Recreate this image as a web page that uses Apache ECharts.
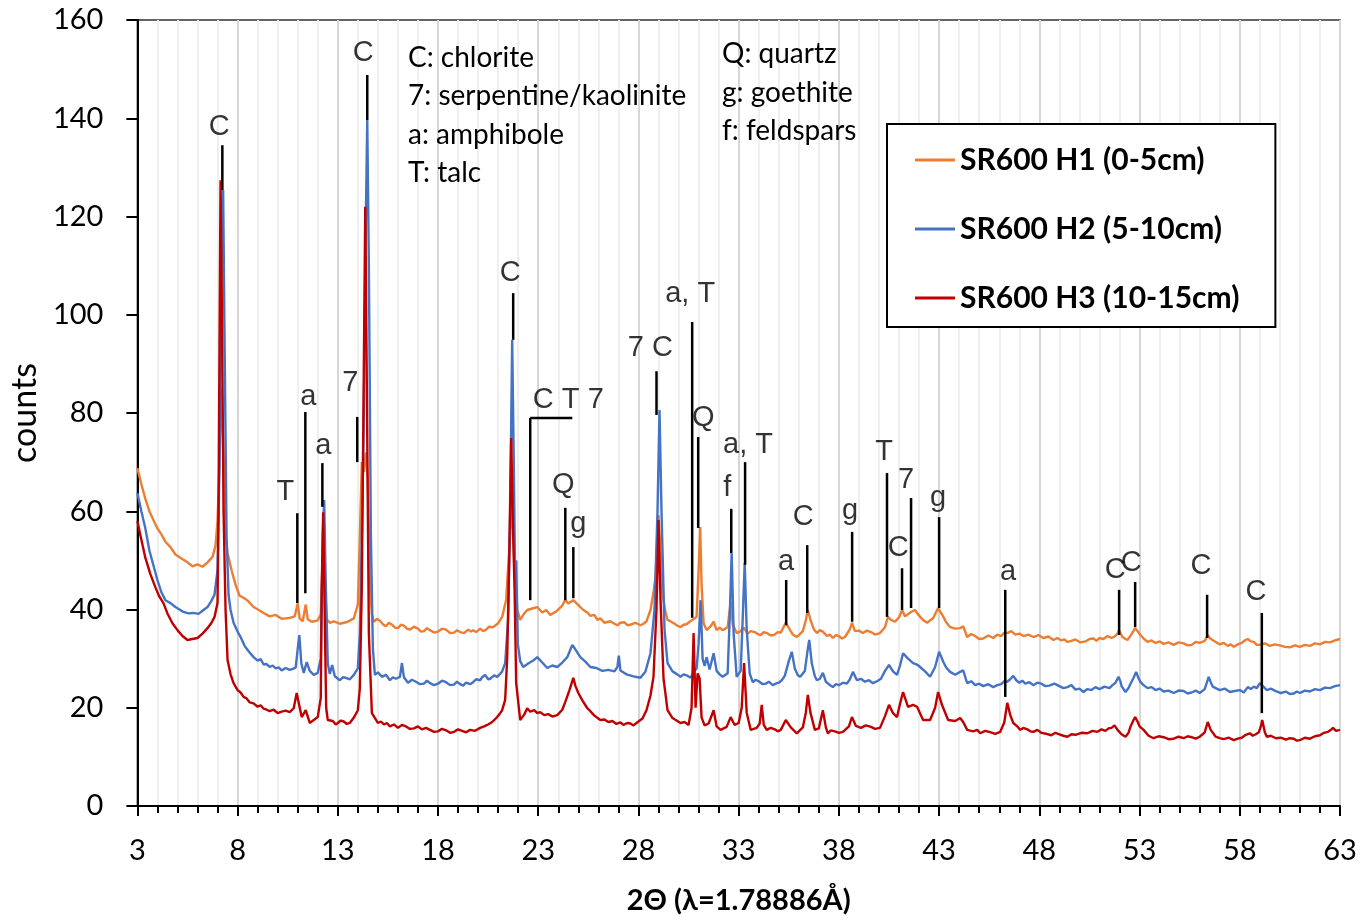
<!DOCTYPE html>
<html>
<head>
<meta charset="utf-8">
<script src="https://cdn.jsdelivr.net/npm/echarts@6/dist/echarts.min.js"></script>
<style>
  html, body { margin: 0; padding: 0; background: #fff; }
  #chart { width: 1360px; height: 921px; }
</style>
</head>
<body>
<div id="chart"></div>
<script>
// names of the 3 patterns
const seriesNames = ['SR600 H1 (0-5cm)', 'SR600 H2 (5-10cm)', 'SR600 H3 (10-15cm)'];

// [2theta, counts]
const h1 = [[3.0,68.8],[3.2,65.5],[3.4,62.5],[3.6,60],[3.8,58.2],[4.0,56.5],[4.2,55.3],[4.4,53.8],[4.65,52.7],[4.9,51.2],[5.2,50.4],[5.5,49.6],[5.75,48.8],[6.0,49.2],[6.25,48.7],[6.5,49.6],[6.75,50.7],[6.9,53],[7.0,58],[7.1,70],[7.2,85],[7.3,72],[7.4,55],[7.5,51.5],[7.7,48],[7.9,45],[8.1,42.8],[8.3,42.4],[8.5,41.8],[8.8,40.5],[9.1,39.8],[9.3,39.3],[9.6,38.6],[9.9,38.9],[10.2,38.1],[10.6,38.3],[10.85,38.6],[11.0,41.2],[11.1,38.2],[11.25,37.6],[11.4,41],[11.5,38],[11.7,37.5],[12.0,37.8],[12.15,39],[12.25,50],[12.35,45],[12.45,38],[12.6,37.3],[12.8,37.6],[13.1,37.1],[13.5,37.5],[13.8,38.2],[14.0,41],[14.1,55],[14.2,70],[14.3,68],[14.4,72],[14.5,66],[14.6,45],[14.7,39],[14.8,37.5],[14.95,38.1],[15.1,37.7],[15.25,37.0],[15.4,36.6],[15.55,37.3],[15.7,36.9],[15.85,36.3],[16.0,36.2],[16.15,36.9],[16.3,36.7],[16.45,36.1],[16.6,35.9],[16.8,36.5],[17.0,36.1],[17.15,35.5],[17.3,35.6],[17.45,36.2],[17.6,35.8],[17.8,35.3],[18.0,35.5],[18.2,36.1],[18.4,35.9],[18.6,35.2],[18.8,35.3],[18.95,35.8],[19.1,35.4],[19.3,35.2],[19.5,35.9],[19.65,35.5],[19.75,35.8],[19.9,35.4],[20.1,36.1],[20.25,35.6],[20.4,35.9],[20.55,36.5],[20.75,36.4],[20.9,36.9],[21.0,37.2],[21.2,38.5],[21.4,42],[21.55,52],[21.7,62],[21.8,50],[21.95,40],[22.1,37.9],[22.3,39.2],[22.45,39.9],[22.7,40.2],[22.95,40.5],[23.2,39.4],[23.4,39.9],[23.6,38.9],[23.9,39.6],[24.2,40.8],[24.35,42],[24.5,41.2],[24.75,41.9],[25.0,40.9],[25.25,39.9],[25.45,39.4],[25.6,38.7],[25.8,38.9],[25.95,37.9],[26.1,38.2],[26.3,37.3],[26.6,37.6],[26.8,37.1],[26.95,36.8],[27.1,37.3],[27.3,37.4],[27.45,36.8],[27.6,36.9],[27.85,37.3],[28.1,36.8],[28.25,37.1],[28.4,37.6],[28.6,39.9],[28.75,43.5],[28.85,46.6],[28.95,55],[29.0,59.2],[29.1,52],[29.2,43],[29.35,39.5],[29.45,37.9],[29.6,37.6],[29.8,37.1],[29.95,36.7],[30.1,36.4],[30.25,36.9],[30.4,37],[30.55,37.5],[30.7,37.9],[30.9,38.5],[31.0,48],[31.08,56.8],[31.15,45],[31.25,37.2],[31.4,35.8],[31.6,36.6],[31.75,37.5],[31.9,35.8],[32.05,36.3],[32.2,35.8],[32.45,36.4],[32.6,41.5],[32.7,37],[32.9,35.2],[33.1,35.6],[33.25,36.3],[33.45,35.1],[33.6,35.6],[33.8,35.4],[33.95,35.0],[34.1,34.8],[34.25,35.4],[34.4,35.2],[34.6,34.7],[34.8,34.9],[34.95,35.4],[35.1,35.3],[35.35,37.3],[35.55,35.9],[35.7,34.9],[35.9,34.4],[36.05,35.0],[36.2,35.6],[36.35,37.8],[36.45,39.9],[36.6,37.6],[36.75,36.0],[36.9,35.2],[37.05,35.8],[37.2,35.5],[37.4,34.6],[37.55,34.9],[37.7,34.2],[37.85,34.8],[38.0,34.6],[38.15,34.1],[38.3,34.4],[38.55,36],[38.66,37.3],[38.8,35.6],[39.0,35.7],[39.2,35.2],[39.4,35.7],[39.6,35.4],[39.8,34.9],[40.05,35.2],[40.3,36.4],[40.45,38.5],[40.6,37.9],[40.8,37.5],[41.0,38.4],[41.15,39.9],[41.3,38.6],[41.4,38.9],[41.6,39.5],[41.8,39.9],[41.95,39.0],[42.1,38.3],[42.25,37.7],[42.4,37.3],[42.55,37.8],[42.7,38.2],[42.95,40.3],[43.2,38.6],[43.35,37.4],[43.55,36.4],[43.8,36.1],[44.05,36.2],[44.2,36.6],[44.4,34.4],[44.6,35.0],[44.8,34.6],[45.0,34.0],[45.2,34.1],[45.45,34.7],[45.7,34.2],[45.9,34.9],[46.1,34.6],[46.25,35.3],[46.4,35.2],[46.6,35.6],[46.8,34.9],[47.0,35.1],[47.2,34.6],[47.45,34.9],[47.7,34.4],[47.95,34.8],[48.2,34.2],[48.45,34.5],[48.7,33.8],[48.9,34.2],[49.1,33.7],[49.25,33.9],[49.4,33.4],[49.6,33.6],[49.8,33.9],[50.05,33.3],[50.3,33.5],[50.5,34.0],[50.7,34.1],[50.85,33.6],[51.0,34.2],[51.2,34.0],[51.4,34.6],[51.6,34.2],[51.75,34.5],[51.9,35.1],[51.98,35.8],[52.07,35.0],[52.15,34.4],[52.3,34.0],[52.4,33.8],[52.6,35],[52.78,36.2],[52.9,35.6],[53.0,35],[53.2,34.1],[53.4,33.4],[53.6,33.7],[53.8,33.2],[54.0,33.5],[54.2,33.0],[54.45,33.3],[54.7,32.8],[54.95,33.3],[55.2,33.1],[55.4,32.7],[55.6,32.8],[55.8,33.4],[56.0,33.2],[56.25,33.6],[56.4,34.8],[56.5,34.2],[56.6,33.9],[56.8,33.4],[57.0,32.9],[57.2,33.2],[57.4,32.6],[57.55,32.9],[57.7,32.4],[57.9,32.9],[58.1,33.2],[58.25,33.7],[58.4,34.0],[58.55,33.5],[58.7,33.4],[58.85,32.8],[59.0,32.8],[59.25,33.1],[59.5,32.6],[59.75,32.9],[60.0,32.7],[60.25,32.4],[60.5,32.3],[60.75,32.7],[61.0,32.4],[61.25,32.8],[61.5,32.6],[61.75,33.1],[62.0,32.9],[62.25,33.4],[62.5,33.3],[62.75,33.7],[63.0,34.0]];

const h2 = [[3.0,63.7],[3.2,60],[3.4,56.5],[3.6,52],[3.8,49],[4.0,46],[4.2,43.5],[4.4,41.9],[4.65,41.3],[4.9,40.5],[5.1,40],[5.3,39.5],[5.55,39.2],[5.8,39.3],[6.05,39.1],[6.3,39.9],[6.5,40.5],[6.7,41.8],[6.85,43],[7.0,48],[7.1,70],[7.2,110],[7.28,125.4],[7.35,95],[7.45,55],[7.55,43],[7.65,39.9],[7.8,37.3],[8.0,35.5],[8.15,34.4],[8.35,32.6],[8.55,31.5],[8.8,30.3],[9.0,29.6],[9.15,29.9],[9.3,28.8],[9.45,28.9],[9.6,28.3],[9.75,28.6],[9.9,28],[10.05,28.2],[10.2,27.6],[10.4,28.1],[10.6,27.7],[10.75,27.9],[10.9,28.2],[11.0,32],[11.08,34.8],[11.18,29],[11.3,27.1],[11.45,29.3],[11.6,27.5],[11.8,26.7],[12.0,27.1],[12.15,30],[12.25,55],[12.32,62.3],[12.4,45],[12.5,29],[12.6,26.9],[12.72,28.7],[12.85,26.4],[13.1,25.6],[13.25,26.2],[13.4,26.1],[13.6,25.8],[13.8,26.7],[14.0,28],[14.1,35],[14.2,55],[14.3,80],[14.4,120],[14.47,139.6],[14.55,110],[14.65,55],[14.75,32],[14.85,26.7],[15.0,27.2],[15.2,26.3],[15.4,26.7],[15.6,25.6],[15.75,26.2],[15.9,25.9],[16.1,26.3],[16.2,29.1],[16.3,26.2],[16.5,25.1],[16.7,25.7],[16.9,25.3],[17.1,24.8],[17.3,24.9],[17.45,25.5],[17.6,25],[17.8,24.6],[18.0,24.9],[18.2,25.5],[18.4,25.2],[18.6,24.6],[18.8,24.7],[18.95,25.3],[19.1,24.8],[19.25,24.5],[19.4,25.1],[19.6,24.8],[19.75,25.2],[19.9,25.8],[20.1,25.6],[20.2,26.2],[20.35,26.7],[20.5,25.8],[20.6,25.9],[20.8,26.6],[20.95,26.3],[21.1,26.9],[21.2,27.4],[21.35,29.1],[21.5,38],[21.6,60],[21.7,94.9],[21.78,70],[21.85,45],[21.9,50],[21.98,33],[22.1,29.5],[22.25,28.3],[22.5,29],[22.75,29.6],[22.95,30.3],[23.2,29.2],[23.45,28.1],[23.7,28.6],[23.95,28.3],[24.2,29.2],[24.45,30.3],[24.6,31.8],[24.7,32.8],[24.85,31.9],[25.1,30.3],[25.35,29.4],[25.6,28.3],[25.9,28.1],[26.2,27.5],[26.5,27.7],[26.8,27.4],[26.95,28.3],[27.02,30.6],[27.1,27.6],[27.4,26.8],[27.75,26.4],[28.1,26.1],[28.35,27.4],[28.6,31.1],[28.8,40],[28.95,60],[29.05,80.6],[29.15,60],[29.3,36],[29.45,29.1],[29.7,27.4],[29.9,26.9],[30.1,26.3],[30.25,26.8],[30.4,26.6],[30.6,26.1],[30.75,27.2],[30.9,28],[31.0,33],[31.1,41.9],[31.2,30],[31.3,28.5],[31.4,30.3],[31.55,27.8],[31.75,31.1],[31.9,27.5],[32.05,26.8],[32.2,26.3],[32.45,27],[32.55,38],[32.65,51.5],[32.75,35],[32.9,26.3],[33.1,27.5],[33.2,38],[33.3,49.5],[33.4,36],[33.55,27],[33.7,25.2],[33.85,25.7],[34.0,25.4],[34.2,24.8],[34.35,24.9],[34.5,25.3],[34.7,24.6],[34.85,24.9],[35.0,25.1],[35.15,25.6],[35.3,26.5],[35.5,29.5],[35.65,31.4],[35.8,28],[35.95,26.6],[36.07,26.3],[36.3,27.5],[36.45,32],[36.52,33.8],[36.65,29],[36.8,26.4],[36.9,25.6],[37.05,25.9],[37.2,27.1],[37.35,25.3],[37.5,24.8],[37.7,24.2],[37.85,24.8],[38.0,24.6],[38.2,25.1],[38.4,24.9],[38.55,25.8],[38.7,27.3],[38.9,25.6],[39.1,25.9],[39.3,25.3],[39.5,25.6],[39.7,25],[39.9,25.4],[40.1,25.9],[40.3,27.5],[40.5,28.7],[40.7,27.4],[40.9,26.7],[41.05,28.6],[41.2,31.1],[41.45,30],[41.7,29.1],[41.9,28.8],[42.05,28.3],[42.3,27.4],[42.55,26.3],[42.8,28.3],[43.0,31.4],[43.2,29.4],[43.35,28.2],[43.55,27.3],[43.8,26.7],[44.05,27.3],[44.2,27.6],[44.4,25],[44.6,25.4],[44.8,24.6],[45.0,24.9],[45.2,24.4],[45.45,24.8],[45.7,24.2],[45.9,24.6],[46.1,24.8],[46.25,25.4],[46.4,25.3],[46.55,25.8],[46.7,26.5],[46.85,25.6],[47.0,25.1],[47.15,25.5],[47.3,24.9],[47.5,25.2],[47.7,24.6],[47.9,25.1],[48.1,24.9],[48.3,24.4],[48.5,24.5],[48.75,24.9],[49.0,24.4],[49.2,24.0],[49.4,24.2],[49.6,24.6],[49.8,23.7],[50.0,23.9],[50.2,23.2],[50.4,23.8],[50.6,23.6],[50.8,24.2],[51.0,23.8],[51.25,24.3],[51.5,24],[51.65,24.6],[51.8,25.1],[51.95,26.3],[52.05,25.3],[52.1,24.4],[52.3,23.2],[52.45,24.0],[52.55,24.9],[52.7,26.1],[52.83,27.3],[52.95,26.0],[53.05,25.2],[53.2,24.6],[53.4,24],[53.6,24.2],[53.8,23.6],[54.0,23.9],[54.2,23.3],[54.45,23.5],[54.7,23],[54.95,23.5],[55.2,23.4],[55.4,22.9],[55.6,23.1],[55.8,23.5],[56.0,23],[56.25,23.8],[56.45,26.3],[56.55,25.2],[56.65,24.3],[56.8,24.0],[57.0,23.6],[57.25,23.9],[57.5,23.2],[57.75,23.4],[58.0,23.6],[58.2,23.1],[58.4,24.2],[58.55,23.8],[58.7,24.3],[58.85,24.0],[59.0,25],[59.15,24.4],[59.35,23.6],[59.55,23.9],[59.8,23.4],[60.05,23.0],[60.3,23.3],[60.5,22.8],[60.7,22.9],[60.85,23.3],[61.0,23],[61.25,23.5],[61.5,23.3],[61.75,23.8],[62.0,23.6],[62.25,24.1],[62.5,24],[62.75,24.4],[63.0,24.6]];

const h3 = [[3.0,58],[3.2,54.2],[3.4,50.5],[3.65,47.2],[3.9,44.5],[4.1,42.6],[4.3,41.3],[4.5,39.2],[4.75,37.2],[5.0,35.8],[5.25,34.6],[5.5,33.8],[5.75,34],[6.0,34.2],[6.25,35.1],[6.5,36.2],[6.7,37.3],[6.85,38.5],[7.0,41.3],[7.05,60],[7.1,95],[7.15,127.4],[7.22,100],[7.3,60],[7.4,39.9],[7.5,29.7],[7.65,26.8],[7.8,25],[8.0,23.6],[8.15,23.1],[8.3,22.2],[8.45,21.9],[8.6,21.1],[8.8,20.9],[9.0,20.2],[9.15,20.5],[9.3,19.8],[9.45,19.6],[9.6,19.3],[9.8,19.6],[10.0,18.9],[10.2,19.2],[10.4,19.4],[10.6,19.1],[10.8,19.9],[10.95,23],[11.05,21],[11.2,18.1],[11.4,19.5],[11.6,16.9],[11.8,17.5],[12.0,18.1],[12.15,22],[12.2,45],[12.27,59.8],[12.35,38],[12.42,20],[12.5,17.5],[12.75,17.3],[12.9,16.6],[13.0,16.9],[13.15,17.4],[13.3,17.2],[13.45,16.7],[13.6,16.9],[13.8,18],[14.0,19.5],[14.1,24],[14.2,45],[14.3,90],[14.37,122],[14.45,85],[14.55,35],[14.7,18.9],[15.0,16.9],[15.15,17.2],[15.3,16.6],[15.45,16.9],[15.6,16.2],[15.8,16.6],[16.0,15.9],[16.2,16.5],[16.4,16.2],[16.6,15.7],[16.8,15.8],[17.0,16.2],[17.2,15.6],[17.4,15.9],[17.6,15.5],[17.8,15.1],[18.0,15.2],[18.2,15.7],[18.4,15.4],[18.6,14.9],[18.8,15.1],[19.0,15.6],[19.2,15.3],[19.4,15.0],[19.6,15.5],[19.85,15.3],[20.1,15.9],[20.3,16.2],[20.5,16.6],[20.7,17.1],[20.95,18.1],[21.1,18.9],[21.2,19.5],[21.35,21.6],[21.45,30],[21.55,50],[21.65,74.9],[21.75,55],[21.82,44],[21.9,25],[22.1,17.5],[22.3,18.6],[22.45,19.9],[22.6,19.2],[22.8,19.5],[22.95,18.9],[23.1,19.1],[23.3,18.5],[23.5,18.7],[23.7,18.2],[23.95,18.5],[24.2,19.6],[24.35,21.2],[24.55,23.5],[24.75,26.1],[24.85,24.5],[25.0,23],[25.2,21.5],[25.45,19.9],[25.6,19.3],[25.8,18.4],[26.1,17.5],[26.3,17.6],[26.5,17.1],[26.7,17.3],[26.9,16.7],[27.1,17.0],[27.25,16.5],[27.45,16.9],[27.6,16.8],[27.75,16.4],[27.9,16.9],[28.2,17.8],[28.4,19.5],[28.6,22.5],[28.75,26.3],[28.9,40],[29.0,58.2],[29.1,42],[29.25,26],[29.45,19.5],[29.7,17.9],[29.9,17.4],[30.1,16.9],[30.3,17.1],[30.5,16.5],[30.65,20],[30.75,35.2],[30.85,20],[30.95,27],[31.05,26],[31.15,18],[31.3,16.4],[31.5,16.8],[31.75,19.5],[31.9,16.2],[32.1,15.5],[32.4,16.1],[32.6,18.1],[32.8,16.5],[33.0,16.9],[33.15,20],[33.27,29.1],[33.4,19],[33.6,15.5],[33.9,15.9],[34.05,16.8],[34.15,20.6],[34.25,16.5],[34.4,15.5],[34.6,15.9],[34.8,15.6],[34.95,15.2],[35.1,15.5],[35.35,17.5],[35.6,16],[35.9,14.8],[36.2,16],[36.35,19],[36.45,22.6],[36.58,19],[36.8,15.5],[37.0,15.8],[37.2,19.5],[37.35,16],[37.45,14.8],[37.6,15.4],[37.8,15.2],[38.0,14.9],[38.2,15.1],[38.5,16.2],[38.65,18.1],[38.85,16.3],[39.1,15.9],[39.35,16.4],[39.6,16.1],[39.8,15.7],[40.05,15.9],[40.3,18.3],[40.5,20.6],[40.7,18.9],[40.9,18.1],[41.05,20.8],[41.2,23.2],[41.45,20.2],[41.7,20.6],[41.9,20.2],[42.2,17.5],[42.55,17.5],[42.8,20],[42.95,23.2],[43.15,20.5],[43.45,17.5],[43.8,17.3],[44.05,17.9],[44.2,17.1],[44.4,15.5],[44.7,15.2],[44.9,15.5],[45.05,14.8],[45.3,15.3],[45.5,15.1],[45.8,14.7],[46.05,15.1],[46.25,17],[46.4,21],[46.55,18.5],[46.7,16.9],[46.9,16.2],[47.05,15.5],[47.2,15.9],[47.4,15.6],[47.55,15.2],[47.7,15.1],[47.9,15.5],[48.1,14.9],[48.35,14.7],[48.6,14.4],[48.8,14.9],[49.0,14.6],[49.2,14.3],[49.4,14.1],[49.6,14.6],[49.8,14.5],[50.1,14.9],[50.4,14.8],[50.65,15.3],[50.9,15.1],[51.1,15.6],[51.3,15.3],[51.45,15.8],[51.6,15.9],[51.75,16.4],[51.9,15.5],[52.1,14.6],[52.3,14.1],[52.45,14.9],[52.55,16.2],[52.7,17.5],[52.78,18.1],[52.9,17.2],[53.0,16.2],[53.2,15.5],[53.45,14.3],[53.7,13.8],[53.95,14.2],[54.2,14],[54.45,13.6],[54.7,13.7],[54.95,14.1],[55.2,13.8],[55.4,14.2],[55.6,14],[55.8,13.7],[56.0,14.1],[56.25,15],[56.4,17.1],[56.55,15.5],[56.8,14.1],[57.0,13.8],[57.2,13.6],[57.45,13.9],[57.7,13.4],[57.9,13.7],[58.1,13.9],[58.3,14.5],[58.5,14.8],[58.65,14.3],[58.8,14.6],[58.95,15.0],[59.05,16.2],[59.12,17.5],[59.25,15],[59.35,14.1],[59.55,14.3],[59.8,13.8],[60.05,13.9],[60.3,13.5],[60.5,13.8],[60.7,13.7],[60.85,13.3],[61.0,13.4],[61.25,13.9],[61.5,13.7],[61.75,14.2],[62.0,14.4],[62.2,14.9],[62.4,15.1],[62.55,15.5],[62.65,15.9],[62.8,15.3],[63.0,15.5]];

// peak markers: [label, lineX, lineTop, lineBottom, labelX, labelY]
const peakMarks = [
  ['C', 7.24, 134.5, 125.4, 7.09, 138.2],
  ['C', 14.47, 148.8, 139.6, 14.27, 153.3],
  ['T', 10.98, 59.6, 41.3, 10.38, 63.9],
  ['a', 11.38, 80.2, 43.3, 11.53, 83.3],
  ['a', 12.23, 69.8, 60.9, 12.28, 73.3],
  ['7', 13.97, 79.2, 70, 13.62, 86.1],
  ['C', 21.75, 104.4, 94.9, 21.6, 108.5],
  ['C T 7', 22.6, 79, 41.9, 24.5, 82.6],
  ['Q', 24.35, 60.7, 41.9, 24.25, 65.3],
  ['g', 24.75, 52.7, 42.3, 25.0, 57.4],
  ['7 C', 28.9, 88.5, 79.6, 28.59, 93.2],
  ['a, T', 30.68, 98.5, 38.3, 30.58, 104.2],
  ['Q', 30.98, 75.1, 56.6, 31.23, 79],
  ['f', 32.63, 60.5, 51.5, 32.43, 64.7],
  ['a, T', 33.32, 70, 49.1, 33.47, 73.5],
  ['a', 35.37, 46, 36.8, 35.37, 49.7],
  ['C', 36.42, 53.1, 39.3, 36.22, 58.8],
  ['g', 38.66, 55.8, 37.5, 38.56, 60],
  ['T', 40.4, 67.8, 38.5, 40.26, 72.1],
  ['C', 41.15, 48.4, 39.9, 40.96, 52.5],
  ['7', 41.6, 62.7, 40.3, 41.35, 66.4],
  ['g', 43.0, 58.8, 40.3, 42.95, 62.7],
  ['a', 46.3, 44, 22.2, 46.44, 47.6],
  ['C', 51.98, 44, 34.8, 51.78, 48],
  ['C', 52.78, 45.6, 36.4, 52.58, 49.5],
  ['C', 56.37, 43, 34.2, 56.07, 48.9],
  ['C', 59.1, 39.3, 18.9, 58.81, 43.6]
];
// bracket over the C T 7 group: [x1, y1, x2, y2]
const bracket = [22.6, 79, 24.7, 79];

const keyLeft = ['C: chlorite', '7: serpentine/kaolinite', 'a: amphibole', 'T: talc'];
const keyRight = ['Q: quartz', 'g: goethite', 'f: feldspars'];

const colors = ['#ED7D31', '#4472C4', '#C00000'];
const calibri = 'Lato, "Open Sans", sans-serif';

const segs = peakMarks.map(m => [m[1], m[2], m[1], m[3]]);
segs.push(bracket);
const labels = peakMarks.map(m => [m[4], m[5], m[0]]);

const graphics = [];
keyLeft.forEach((t, i) => graphics.push({
  type: 'text', x: 408, y: 58 + i * 38.3, z: 100,
  style: { text: t, font: '28px ' + calibri, fill: '#000', verticalAlign: 'middle' }
}));
keyRight.forEach((t, i) => graphics.push({
  type: 'text', x: 722, y: 54 + i * 38.5, z: 100,
  style: { text: t, font: '28px ' + calibri, fill: '#000', verticalAlign: 'middle' }
}));

const chart = echarts.init(document.getElementById('chart'));
chart.setOption({
  animation: false,
  backgroundColor: '#fff',
  color: colors,
  grid: { left: 137, right: 20, top: 20, bottom: 115, show: true, borderColor: '#333', borderWidth: 1.5 },
  legend: {
    data: seriesNames,
    orient: 'vertical',
    left: 887, top: 124,
    padding: [19, 36, 12, 28],
    itemGap: 35,
    itemWidth: 40, itemHeight: 3,
    itemTextGap: 7,
    icon: 'rect',
    borderColor: '#000', borderWidth: 2,
    backgroundColor: '#fff',
    textStyle: { fontFamily: calibri, fontWeight: 'bold', fontSize: 30, lineHeight: 34, color: '#000' }
  },
  graphic: graphics,
  xAxis: {
    type: 'value', min: 3, max: 63, interval: 5,
    name: '2Θ (λ=1.78886Å)', nameLocation: 'middle', nameGap: 80,
    nameTextStyle: { fontFamily: calibri, fontWeight: 'bold', fontSize: 29, color: '#000' },
    axisLine: { onZero: false, lineStyle: { color: '#000', width: 2 } },
    axisTick: { length: 10, lineStyle: { color: '#000', width: 2 } },
    minorTick: { show: true, splitNumber: 5, length: 7, lineStyle: { color: '#000', width: 2 } },
    splitLine: { show: true, lineStyle: { color: '#d6d6d6', width: 2 } },
    minorSplitLine: { show: true, lineStyle: { color: '#efefef', width: 2 } },
    axisLabel: { margin: 30, fontFamily: calibri, fontSize: 29, color: '#000' }
  },
  yAxis: {
    type: 'value', min: 0, max: 160, interval: 20,
    name: 'counts', nameLocation: 'middle', nameGap: 90,
    nameTextStyle: { fontFamily: calibri, fontSize: 34, color: '#000' },
    axisLine: { show: true, lineStyle: { color: '#000', width: 2 } },
    axisTick: { show: true, length: 11, lineStyle: { color: '#000', width: 2 } },
    splitLine: { show: false },
    axisLabel: { margin: 34, fontFamily: calibri, fontSize: 29, color: '#000' }
  },
  series: [
    ...[h1, h2, h3].map((d, i) => ({
      name: seriesNames[i], type: 'line', data: d,
      showSymbol: false, symbol: 'none',
      lineStyle: { width: 2.4, color: colors[i] },
      itemStyle: { color: colors[i] },
      z: 2 + i
    })),
    {
      type: 'custom', name: 'marks', data: segs, z: 10,
      encode: { x: [0, 2], y: [1, 3] },
      renderItem: (params, api) => {
        const a = api.coord([api.value(0), api.value(1)]);
        const b = api.coord([api.value(2), api.value(3)]);
        return { type: 'line', shape: { x1: a[0], y1: a[1], x2: b[0], y2: b[1] },
          style: { stroke: '#000', lineWidth: 2.5 } };
      }
    },
    {
      type: 'scatter', name: 'marktext', data: labels, z: 11,
      symbolSize: 1, itemStyle: { color: 'rgba(0,0,0,0)' },
      encode: { x: 0, y: 1 },
      label: {
        show: true, position: 'inside', formatter: p => p.value[2],
        fontFamily: '"Liberation Sans", Arial, sans-serif', fontSize: 29, color: '#000'
      }
    }
  ]
});
</script>
</body>
</html>
